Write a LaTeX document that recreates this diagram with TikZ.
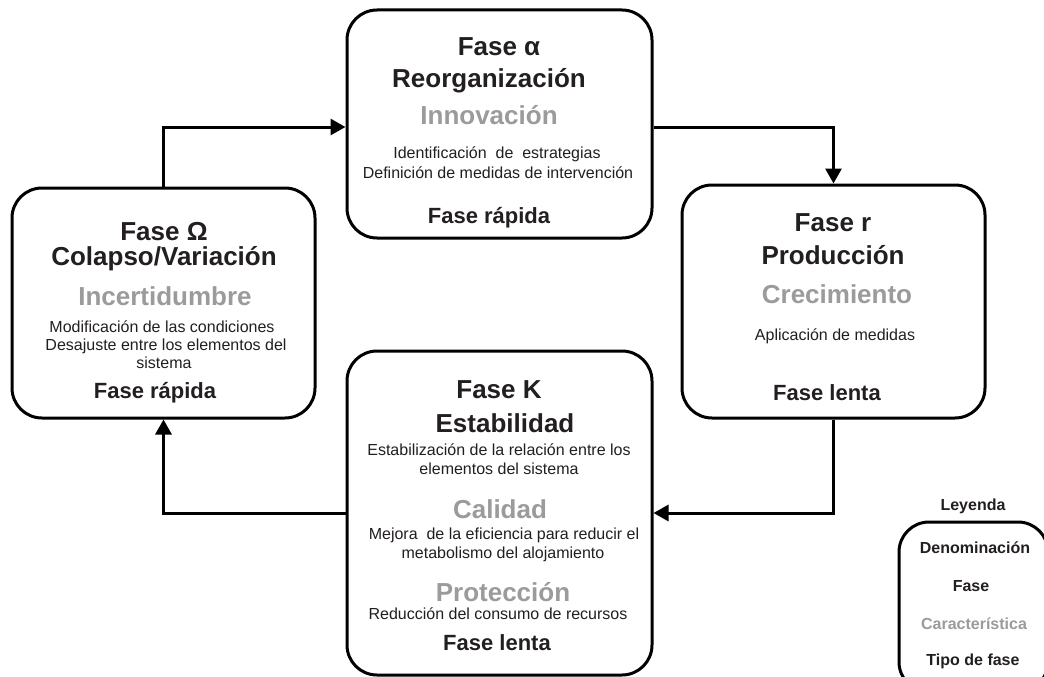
\documentclass[tikz,border=0pt]{standalone}
\usepackage{fontspec}
\setmainfont{Liberation Sans}
\usetikzlibrary{arrows.meta}
\definecolor{ink}{HTML}{231F20}
\definecolor{soft}{HTML}{9B9B9B}
\tikzset{
  box/.style={draw=black, line width=3pt, rounded corners=30pt, fill=white, inner sep=0pt},
  conn/.style={line width=3pt, -{Triangle[length=15pt,width=16pt]}},
  txt/.style={anchor=base, inner sep=0pt, text=ink, align=center},
  title/.style={txt, font=\fontsize{26}{30}\selectfont\bfseries},
  feat/.style={txt, text=soft, font=\fontsize{26}{30}\selectfont\bfseries},
  body/.style={txt, font=\fontsize{16}{19}\selectfont},
  speed/.style={txt, font=\fontsize{22}{26}\selectfont\bfseries},
  leg/.style={txt, font=\fontsize{16}{19}\selectfont\bfseries},
  legsoft/.style={leg, text=soft}
}
\begin{document}
\begin{tikzpicture}[x=1pt,y=-1pt]
\useasboundingbox (0,0) rectangle (1044,677);
% boxes
\node[box, minimum width=305pt, minimum height=228pt] (alpha) at (499.5,124) {};
\node[box, minimum width=303pt, minimum height=230pt] (omega) at (163.5,303) {};
\node[box, minimum width=303pt, minimum height=233pt] (r) at (833.5,301.5) {};
\node[box, minimum width=305pt, minimum height=324pt] (K) at (499.5,513) {};
\node[box, minimum width=149pt, minimum height=170pt] (legend) at (973.5,607) {};
% connectors
\draw[conn] (omega.north) |- ([yshift=-3pt]alpha.west);
\draw[conn] ([yshift=-3pt]alpha.east) -| (r.north);
\draw[conn] (r.south) |- (K.east);
\draw[conn] (K.west) -| (omega.south);
% alpha texts
\node[title] (a1) at (499,56) {Fase α};
\node[title] (a2) at (489,88) {Reorganización};
\node[feat]  (a3) at (489,124) {Innovación};
\node[body]  (a4) at (497,158) {Identificación\ \ de\ \ estrategias};
\node[body]  (a5) at (498,178) {Definición de medidas de intervención};
\node[speed] (a6) at (489,223) {Fase rápida};
% omega texts
\node[title] (o1) at (164,240) {Fase Ω};
\node[title] (o2) at (164,265) {Colapso/Variación};
\node[feat]  (o3) at (165,305) {Incertidumbre};
\node[body]  (o4) at (162,332) {Modificación de las condiciones};
\node[body]  (o5) at (166,350) {Desajuste entre los elementos del};
\node[body]  (o6) at (164,368) {sistema};
\node[speed] (o7) at (155,398) {Fase rápida};
% r texts
\node[title] (r1) at (833,231) {Fase r};
\node[title] (r2) at (833,264) {Producción};
\node[feat]  (r3) at (837,303) {Crecimiento};
\node[body]  (r4) at (835,340) {Aplicación de medidas};
\node[speed] (r5) at (827,400) {Fase lenta};
% K texts
\node[title] (k1) at (499,398) {Fase K};
\node[title] (k2) at (505,432) {Estabilidad};
\node[body]  (k3) at (499,455) {Estabilización de la relación entre los};
\node[body]  (k4) at (499,474) {elementos del sistema};
\node[feat]  (k5) at (500,518) {Calidad};
\node[body]  (k6) at (504,539) {Mejora\ \ de la eficiencia para reducir el};
\node[body]  (k7) at (503,558) {metabolismo del alojamiento};
\node[feat]  (k8) at (503,601) {Protección};
\node[body]  (k9) at (498,619) {Reducción del consumo de recursos};
\node[speed] (k10) at (497,650) {Fase lenta};
% legend
\node[leg]     (l0) at (973,510) {Leyenda};
\node[leg]     (l1) at (975,553) {Denominación};
\node[leg]     (l2) at (971,591) {Fase};
\node[legsoft] (l3) at (974,629) {Característica};
\node[leg]     (l4) at (973,665) {Tipo de fase};
\end{tikzpicture}
\end{document}
